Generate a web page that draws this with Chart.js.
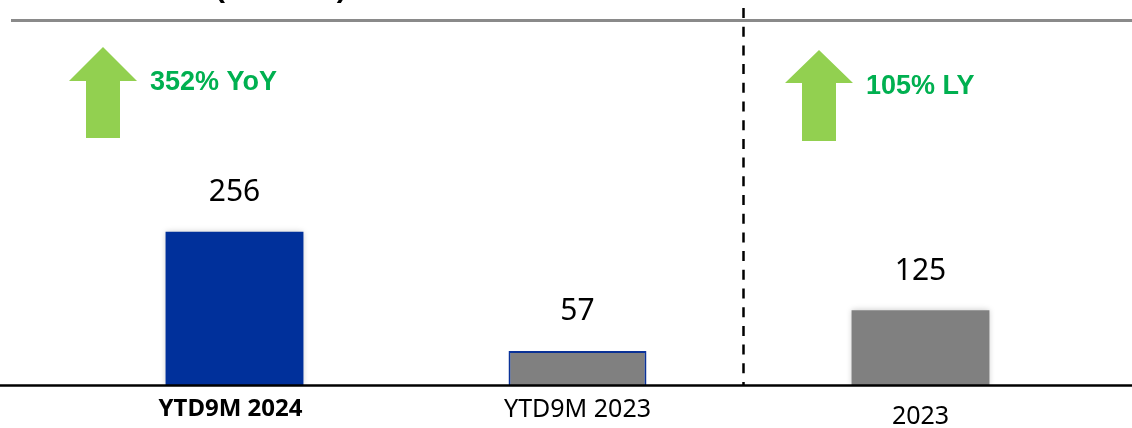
<!DOCTYPE html>
<html>
<head>
    <title>Net Profit</title>
    <script src="https://cdn.jsdelivr.net/npm/chart.js"></script>
    <style>
        html, body { margin: 0; padding: 0; background: #fff; }
        .chart-box { width: 1132px; height: 428px; position: relative; }
    </style>
</head>
<body>
    <div class="chart-box">
        <canvas id="profitChart"></canvas>
    </div>

    <script>
        // chart data
        const categories = ['YTD9M 2024', 'YTD9M 2023', '2023'];
        const profit = [256, 57, 125];
        const growthText = ['352% YoY', '105% LY'];

        const fillColors = ['#00309b', '#808080', '#808080'];
        const edgeColors = ['#00309b', '#0b36a3', '#808080'];
        const green = '#00b050';
        const arrowGreen = '#92d050';

        function drawArrow(ctx, cx, tipY, headHalf, baseY, shaftHalf, bottomY) {
            ctx.beginPath();
            ctx.moveTo(cx, tipY);
            ctx.lineTo(cx + headHalf, baseY);
            ctx.lineTo(cx + shaftHalf, baseY);
            ctx.lineTo(cx + shaftHalf, bottomY);
            ctx.lineTo(cx - shaftHalf, bottomY);
            ctx.lineTo(cx - shaftHalf, baseY);
            ctx.lineTo(cx - headHalf, baseY);
            ctx.closePath();
            ctx.fill();
        }

        // lines, arrows and header behind the bars
        const backdrop = {
            id: 'backdrop',
            beforeDatasetsDraw(chart) {
                const ctx = chart.ctx;
                ctx.save();

                // header text, mostly cut off at the top
                ctx.fillStyle = '#000';
                ctx.font = 'bold 30px "Liberation Sans"';
                ctx.textAlign = 'left';
                ctx.textBaseline = 'alphabetic';
                ctx.fillText('(US$ mn)', 215, -3);

                ctx.strokeStyle = '#8a8a8a';
                ctx.lineWidth = 3;
                ctx.beginPath();
                ctx.moveTo(11, 20.5);
                ctx.lineTo(1132, 20.5);
                ctx.stroke();

                // divider between YTD and full year
                ctx.strokeStyle = '#000';
                ctx.lineWidth = 2.5;
                ctx.setLineDash([10, 8.7]);
                ctx.beginPath();
                ctx.moveTo(743.5, 8);
                ctx.lineTo(743.5, 385);
                ctx.stroke();
                ctx.setLineDash([]);

                // growth arrows
                ctx.fillStyle = arrowGreen;
                drawArrow(ctx, 103, 47, 34, 81, 17, 138);
                drawArrow(ctx, 819, 50, 34, 83, 17, 141);

                ctx.fillStyle = green;
                ctx.font = 'bold 27px "Liberation Sans"';
                ctx.textBaseline = 'middle';
                ctx.fillText(growthText[0], 150, 83);
                ctx.fillText(growthText[1], 866, 87);

                // soft shadow under the bars
                ctx.restore();
                ctx.save();
                ctx.shadowColor = 'rgba(0,0,0,0.22)';
                ctx.shadowBlur = 6;
            },
            afterDatasetsDraw(chart) {
                const ctx = chart.ctx;
                ctx.restore();
                ctx.save();

                // baseline
                ctx.strokeStyle = '#000';
                ctx.lineWidth = 2.5;
                ctx.beginPath();
                ctx.moveTo(0, 385.5);
                ctx.lineTo(1132, 385.5);
                ctx.stroke();

                // value labels above bars
                const meta = chart.getDatasetMeta(0);
                ctx.fillStyle = '#000';
                ctx.textAlign = 'center';
                ctx.textBaseline = 'middle';
                ctx.font = '30px "Noto Sans"';
                meta.data.forEach((bar, i) => {
                    ctx.fillText(String(profit[i]), bar.x, bar.y - 39);
                });

                // category labels
                const xs = chart.scales.x;
                const labelY = [409, 410, 417];
                categories.forEach((c, i) => {
                    ctx.font = (i === 0 ? 'bold 24px' : '25px') + ' "Noto Sans"';
                    ctx.fillText(c, xs.getPixelForValue(i) - (i === 0 ? 4 : 0), labelY[i]);
                });
                ctx.restore();
            }
        };

        new Chart(document.getElementById('profitChart'), {
            type: 'bar',
            data: {
                labels: categories,
                datasets: [{
                    data: profit,
                    backgroundColor: fillColors,
                    borderColor: edgeColors,
                    borderWidth: [0, 2, 0],
                    borderSkipped: 'bottom',
                    barPercentage: 0.402,
                    categoryPercentage: 1
                }]
            },
            options: {
                responsive: true,
                maintainAspectRatio: false,
                animation: false,
                layout: { padding: { top: 20, bottom: 43, left: 63, right: 40 } },
                plugins: {
                    legend: { display: false },
                    tooltip: { enabled: false }
                },
                scales: {
                    x: { display: false },
                    y: { display: false, min: 0, max: 610 }
                }
            },
            plugins: [backdrop]
        });
    </script>
</body>
</html>
